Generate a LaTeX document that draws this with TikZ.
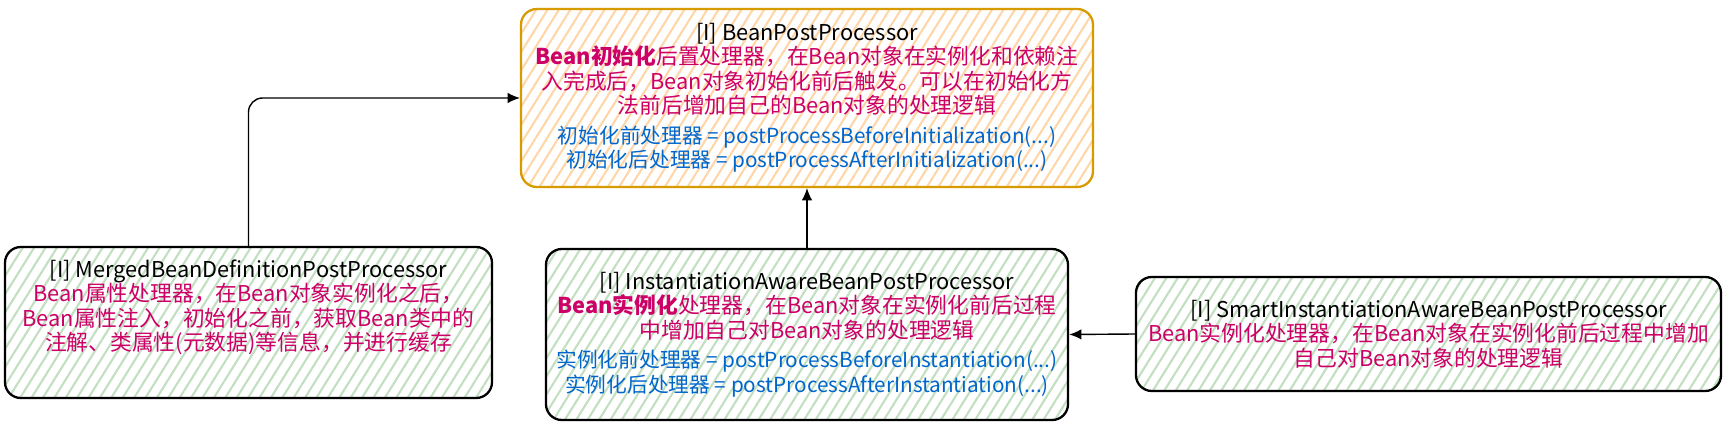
\documentclass[tikz,border=0pt]{standalone}
\usepackage{fontspec}
\setmainfont{Noto Sans CJK SC}
\usetikzlibrary{patterns.meta, arrows.meta}

\definecolor{hatchgreen}{HTML}{C3DFC1}
\definecolor{hatchorange}{HTML}{FFD6A8}
\definecolor{edgeorange}{HTML}{D79B00}
\definecolor{textred}{HTML}{CC0066}
\definecolor{textblue}{HTML}{0066CC}

\newcommand{\redtxt}[1]{\textcolor{textred}{#1}}
\newcommand{\bluetxt}[1]{\textcolor{textblue}{\fontsize{11.8}{13.9}\selectfont #1}}

\begin{document}
\begin{tikzpicture}[>={Latex[length=7pt, width=6pt]},
    box/.style={draw, line width=1.3pt, rounded corners=9pt, align=center,
        font=\fontsize{12.4}{13.9}\selectfont,
        pattern={Lines[angle=58, distance=5.5pt, line width=1.2pt]},
        pattern color=hatchgreen},
    topbox/.style={box, draw=edgeorange, pattern color=hatchorange},
    link/.style={->, line width=0.8pt}]

    % 0. Ukuran gambar
    \useasboundingbox (0,0) rectangle (34.52,8.6);

    % 1. Antarmuka utama
    \node[topbox, minimum width=11.44cm, minimum height=3.56cm] (bpp) at (16.14,6.64)
        {[I] BeanPostProcessor\\
         \redtxt{{\bfseries Bean初始化}后置处理器，在Bean对象在实例化和依赖注}\\
         \redtxt{入完成后，Bean对象初始化前后触发。可以在初始化方}\\
         \redtxt{法前后增加自己的Bean对象的处理逻辑}\\[3pt]
         \bluetxt{初始化前处理器 = postProcessBeforeInitialization(...)}\\
         \bluetxt{初始化后处理器 = postProcessAfterInitialization(...)}};

    % 2. Sub-antarmuka
    \node[box, minimum width=9.74cm, minimum height=3.02cm] (merged) at (4.97,2.15)
        {[I] MergedBeanDefinitionPostProcessor\\
         \redtxt{Bean属性处理器，在Bean对象实例化之后，}\\
         \redtxt{Bean属性注入，初始化之前，获取Bean类中的}\\
         \redtxt{注解、类属性(元数据)等信息，并进行缓存}\\[6pt]};

    \node[box, minimum width=10.44cm, minimum height=3.42cm] (inst) at (16.14,1.91)
        {[I] InstantiationAwareBeanPostProcessor\\
         \redtxt{{\bfseries Bean实例化}处理器，在Bean对象在实例化前后过程}\\
         \redtxt{中增加自己对Bean对象的处理逻辑}\\[3pt]
         \bluetxt{实例化前处理器 = postProcessBeforeInstantiation(...)}\\
         \bluetxt{实例化后处理器 = postProcessAfterInstantiation(...)}};

    \node[box, minimum width=11.7cm, minimum height=2.28cm] (smart) at (28.57,1.92)
        {[I] SmartInstantiationAwareBeanPostProcessor\\
         \redtxt{Bean实例化处理器，在Bean对象在实例化前后过程中增加}\\
         \redtxt{自己对Bean对象的处理逻辑}};

    % 3. Panah pewarisan
    \draw[link, rounded corners=8pt] (merged.north) |- (bpp.west);
    \draw[link] (inst.north) -- (bpp.south);
    \draw[link] (smart.west) -- (inst.east);
\end{tikzpicture}
\end{document}
